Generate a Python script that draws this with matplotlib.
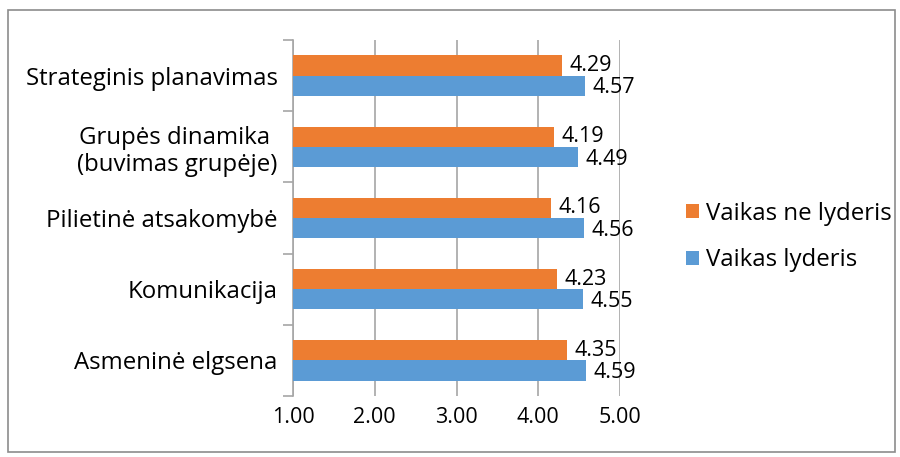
import matplotlib
matplotlib.use("Agg")
import matplotlib.pyplot as plt
import numpy as np
from matplotlib.patches import Rectangle

categories = ["Asmeninė elgsena", "Komunikacija", "Pilietinė atsakomybė",
              "Grupės dinamika \n(buvimas grupėje)", "Strateginis planavimas"]
ne_lyderis = [4.35, 4.23, 4.16, 4.19, 4.29]
lyderis = [4.59, 4.55, 4.56, 4.49, 4.57]
series_names = ["Vaikas ne lyderis", "Vaikas lyderis"]
xticks = [1.0, 2.0, 3.0, 4.0, 5.0]

plt.rcParams['font.family'] = ['Open Sans', 'DejaVu Sans']
ORANGE = "#ED7D31"
BLUE = "#5B9BD5"
GRID = "#A6A6A6"

fig = plt.figure(figsize=(9, 4.57), dpi=100)
fig.patches.append(Rectangle((8/900, 1-452/457), 887/900, 442/457, transform=fig.transFigure,
                             fill=False, edgecolor="#8C8C8C", linewidth=1.2))
ax = fig.add_axes([293/900, 1-396/457, 327/900, 356/457])

y = np.arange(len(categories))
h = 0.285
ax.barh(y + h/2, [v - 1 for v in ne_lyderis], left=1, height=h, color=ORANGE, label=series_names[0], zorder=3)
ax.barh(y - h/2, [v - 1 for v in lyderis], left=1, height=h, color=BLUE, label=series_names[1], zorder=3)

fs_txt = 17.3
fs_num = 15.5
for i in range(len(categories)):
    ax.text(ne_lyderis[i] + 0.09, y[i] + h/2 + 0.0, f"{ne_lyderis[i]:.2f}", va="center", ha="left", fontsize=fs_num)
    ax.text(lyderis[i] + 0.09, y[i] - h/2 - 0.03, f"{lyderis[i]:.2f}", va="center", ha="left", fontsize=fs_num)

ax.set_xlim(1, 5)
ax.set_ylim(-0.5, len(categories) - 0.5)
ax.set_xticks(xticks)
ax.set_xticklabels([f"{t:.2f}" for t in xticks], fontsize=fs_num)
ax.tick_params(axis='x', length=0, pad=8)
ax.xaxis.grid(True, color=GRID, linewidth=1.2, zorder=0)

ax.set_yticks(np.arange(-0.5, len(categories), 1.0))
ax.set_yticklabels([])
ax.tick_params(axis='y', which='major', length=7, color=GRID, width=1.2, direction='out')
ax.set_yticks(y, minor=True)
ax.set_yticklabels(categories, minor=True, fontsize=fs_txt, ha='right', multialignment='center')
ax.tick_params(axis='y', which='minor', length=0, pad=11)

for s in ['top', 'right', 'bottom']:
    ax.spines[s].set_visible(False)
ax.spines['left'].set_color(GRID)
ax.spines['left'].set_linewidth(1.2)

leg = fig.legend(loc='center left', bbox_to_anchor=(664/900, 1-237/457), frameon=False,
                 fontsize=fs_txt, handlelength=0.55, handleheight=0.55, handletextpad=0.3,
                 labelspacing=0.95)

fig.savefig("out.png", dpi=100)
